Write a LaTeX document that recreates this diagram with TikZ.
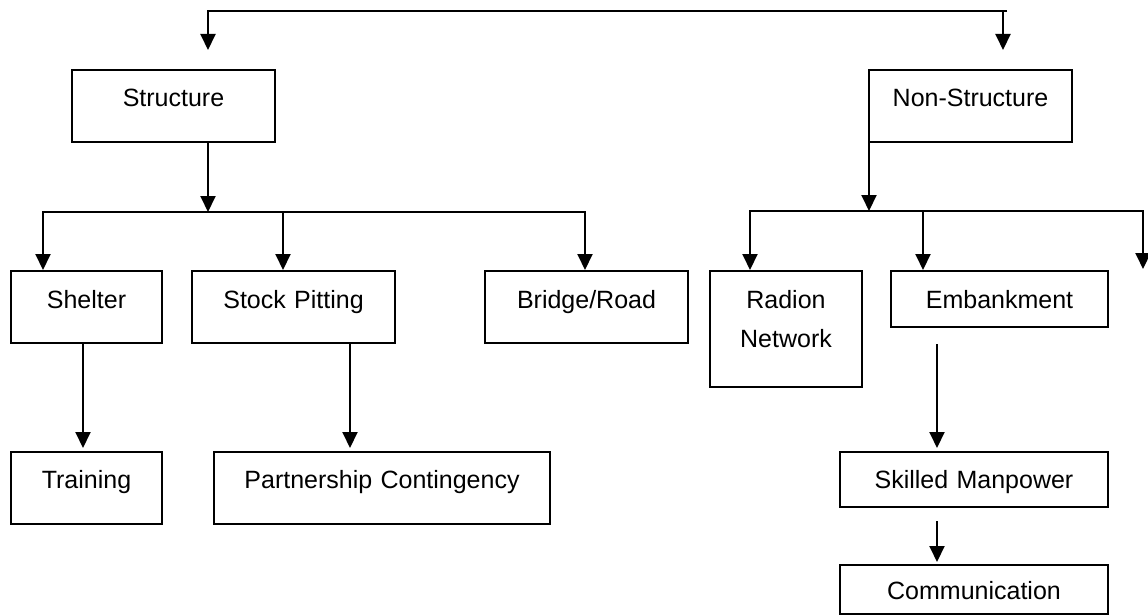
\documentclass[tikz,border=0pt]{standalone}
\usepackage{fontspec}
\setmainfont{Liberation Sans}
\usetikzlibrary{arrows.meta}
\usetikzlibrary{calc}

\begin{document}
\begin{tikzpicture}[x=1pt,y=-1pt,>={Triangle[length=16pt,width=15pt]},
    box/.style={draw, line width=2pt, inner sep=0pt, anchor=north west, align=center, font=\fontsize{25}{39}\selectfont},
    link/.style={->, line width=2pt}]
  \useasboundingbox (0,0) rectangle (1148,615);

  \node[box, text width=203pt, text height=37pt, text depth=35pt] (S) at (71, 69) {Structure};
  \node[box, text width=203pt, text height=37pt, text depth=35pt] (N) at (868, 69) {Non-Structure};

  \node[box, text width=151pt, text height=37pt, text depth=35pt] (S0) at (10, 270) {Shelter};
  \node[box, text width=203pt, text height=37pt, text depth=35pt] (S1) at (191, 270) {Stock Pitting};
  \node[box, text width=203pt, text height=37pt, text depth=35pt] (S2) at (484, 270) {Bridge/Road};
  \node[box, text width=151pt, text height=36pt, text depth=36pt] (S00) at (10, 451) {Training};
  \node[box, text width=336pt, text height=36pt, text depth=36pt] (S10) at (213, 451) {Partnership Contingency};

  \node[box, text width=152pt, text height=37pt, text depth=79pt] (N0) at (709, 270) {Radion\\Network};
  \node[box, text width=217pt, text height=37pt, text depth=19pt] (N1) at (890, 270) {Embankment};
  \node[box, text width=268pt, text height=36pt, text depth=19pt] (N10) at (839, 451) {Skilled Manpower};
  \node[box, text width=268pt, text height=34pt, text depth=15pt] (N100) at (839, 564) {Communication};

  % top bracket
  \coordinate (T0) at (208, 11);
  \coordinate (T1) at (1007, 11);
  \coordinate (TS) at (208, 50);
  \coordinate (TN) at (1003, 50);
  \draw[link] (T1) -- (T0) -- (TS);
  \draw[link] (T1 -| TN) -- (TN);

  % structure side
  \coordinate (SB) at (208, 212);
  \draw[link] (S.south -| SB) -- (SB);
  \draw[link] (SB) -| ([xshift=-43.5pt]S0.north);
  \draw[link] (SB) -| ([xshift=-10.5pt]S1.north);
  \draw[link] (SB) -| ([xshift=-1.5pt]S2.north);
  \draw[link, shorten >=3pt] ([xshift=-3.5pt]S0.south) -- ([xshift=-3.5pt]S00.north);
  \draw[link, shorten >=3pt] ([xshift=56.5pt]S1.south) -- ([xshift=56.5pt]S1.south |- S10.north);

  % non-structure side
  \coordinate (NB) at (869, 211);
  \coordinate (NX) at (1143, 269);
  \draw[link] (N.south west -| NB) -- (NB);
  \draw[link] (NB) -| ([xshift=-36pt]N0.north);
  \draw[link] (NB) -| ([xshift=-76.5pt]N1.north);
  \draw[link] (NB) -| (NX);
  \draw[link, shorten >=3pt] ([xshift=-62.5pt, yshift=-16pt]N1.south) -- ([xshift=-37pt]N10.north);
  \draw[link, shorten >=2pt] ([xshift=-37pt, yshift=-13pt]N10.south) -- ([xshift=-37pt]N100.north);
\end{tikzpicture}
\end{document}
